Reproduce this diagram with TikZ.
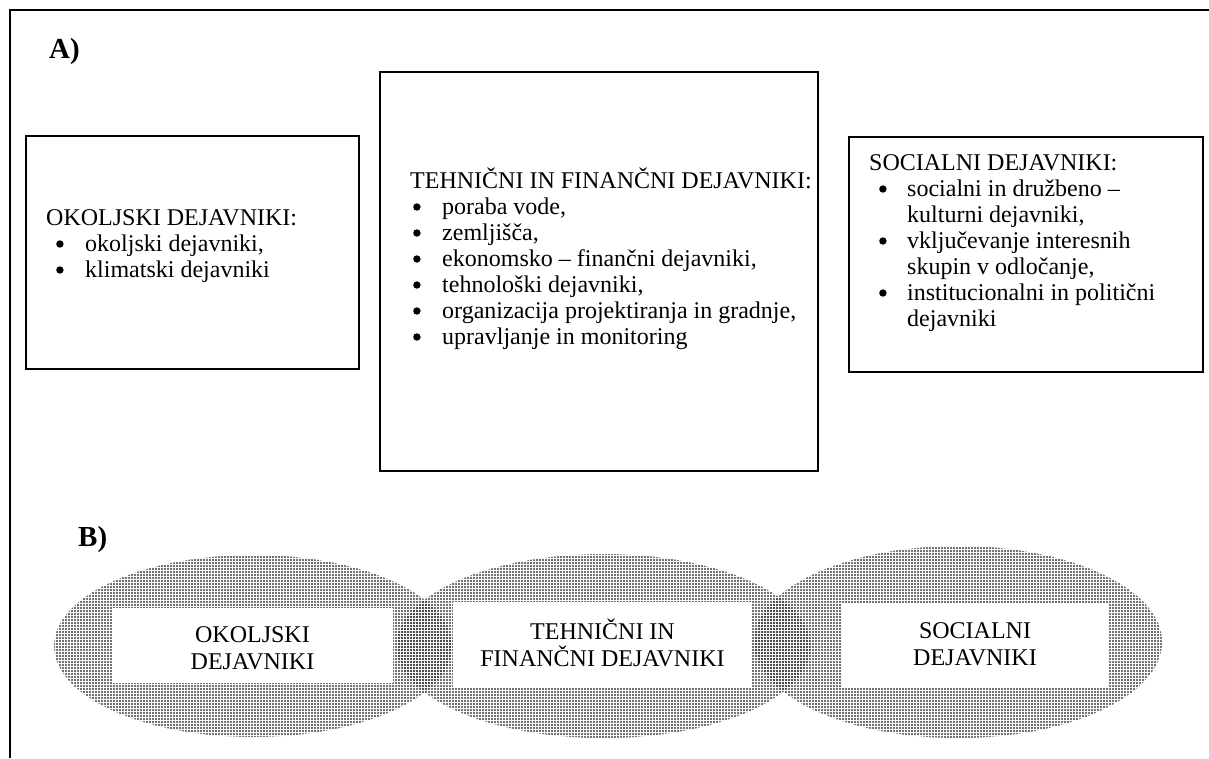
\documentclass[tikz,border=0pt]{standalone}
\usepackage{fontspec}
\setmainfont{Liberation Serif}
\usetikzlibrary{patterns.meta}
\newcommand{\mybul}[1]{\makebox[#1][l]{\tikz[baseline=0pt]\fill (3.7pt,7pt) circle (3.7pt);}}
\begin{document}
\begin{tikzpicture}[x=1pt,y=-1pt,
  frame/.style={line width=1.8pt,black},
  boxa/.style={draw=black,line width=1.8pt,inner sep=0pt,fill=white},
  txt/.style={anchor=base west,inner sep=0pt,font=\fontsize{24}{26}\selectfont},
  lbl/.style={anchor=base west,inner sep=0pt,font=\fontsize{29}{32}\selectfont\bfseries},
  dotfill/.style={pattern={Dots[distance=3pt,radius=1.1pt]},pattern color=black!75},
  wbox/.style={fill=white,inner sep=0pt},
  ctxt/.style={align=center,inner sep=0pt,font=\fontsize{24}{27}\selectfont}]
\useasboundingbox (0,0) rectangle (1209,758);
% outer frame (left and top edges only)
\coordinate (fbl) at (10,758);
\coordinate (ftl) at (10,10);
\coordinate (ftr) at (1209,10);
\draw[frame] (fbl) -- (ftl) -- (ftr);
% A)
\node[lbl] (labA) at (49,58) {A)};
% Box 1
\node[boxa,minimum width=333pt,minimum height=233pt] (b1) at (192.5,252.5) {};
\node[txt] (b1t) at (46,225) {OKOLJSKI DEJAVNIKI:};
\node[txt] (b1a) at (56,251) {\mybul{29pt}okoljski dejavniki,};
\node[txt] (b1b) at (56,277) {\mybul{29pt}klimatski dejavniki};
% Box 2
\node[boxa,minimum width=438pt,minimum height=399pt] (b2) at (599,271.5) {};
\node[txt] (b2t) at (410,188) {TEHNIČNI IN FINANČNI DEJAVNIKI:};
\node[txt] (b2a) at (413,214) {\mybul{29pt}poraba vode,};
\node[txt] (b2b) at (413,240) {\mybul{29pt}zemljišča,};
\node[txt] (b2c) at (413,266) {\mybul{29pt}ekonomsko – finančni dejavniki,};
\node[txt] (b2d) at (413,292) {\mybul{29pt}tehnološki dejavniki,};
\node[txt] (b2e) at (413,318) {\mybul{29pt}organizacija projektiranja in gradnje,};
\node[txt] (b2f) at (413,344) {\mybul{29pt}upravljanje in monitoring};
% Box 3
\node[boxa,minimum width=354pt,minimum height=235pt] (b3) at (1026,254.5) {};
\node[txt] (b3t) at (869,170) {SOCIALNI DEJAVNIKI:};
\node[txt] (b3a) at (879,196) {\mybul{28pt}socialni in družbeno –};
\node[txt] (b3b) at (907,222) {kulturni dejavniki,};
\node[txt] (b3c) at (879,248) {\mybul{28pt}vključevanje interesnih};
\node[txt] (b3d) at (907,274) {skupin v odločanje,};
\node[txt] (b3e) at (879,300) {\mybul{28pt}institucionalni in politični};
\node[txt] (b3f) at (907,326) {dejavniki};
% B)
\node[lbl] (labB) at (78,546) {B)};
% Ellipses
\fill[dotfill] (253,646) ellipse [x radius=199pt, y radius=91pt];
\fill[dotfill] (603.5,646) ellipse [x radius=207pt, y radius=92pt];
\fill[dotfill] (958,642) ellipse [x radius=204pt, y radius=96pt];
% white boxes
\node[wbox,minimum width=281pt,minimum height=75pt] (w1) at (252.5,645.5) {};
\node[wbox,minimum width=299pt,minimum height=86pt] (w2) at (602.5,645) {};
\node[wbox,minimum width=266pt,minimum height=85pt] (w3) at (975,645.5) {};
\node[ctxt] (e1) at (252.5,648) {OKOLJSKI\\DEJAVNIKI};
\node[ctxt] (e2) at (602.5,643) {TEHNIČNI IN\\FINANČNI DEJAVNIKI};
\node[ctxt] (e3) at (975,644.5) {SOCIALNI\\DEJAVNIKI};
\end{tikzpicture}
\end{document}
